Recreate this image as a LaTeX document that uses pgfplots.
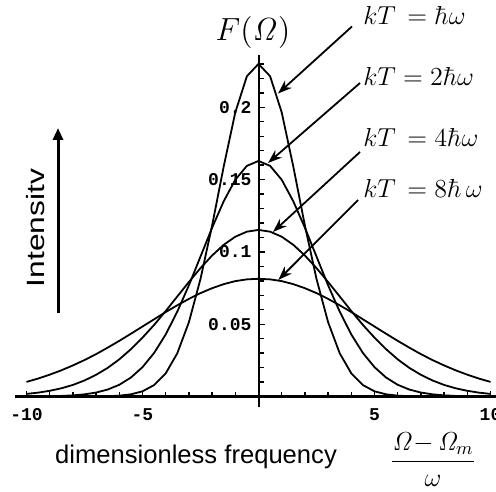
\RequirePackage{fix-cm}
\documentclass[border=0pt]{standalone}
\usepackage[no-math]{fontspec}
\usepackage{graphicx}
\usepackage{pgfplots}
\pgfplotsset{compat=1.18}
\usetikzlibrary{arrows.meta}
\newfontfamily\arial{Liberation Sans}
\newfontfamily\mono{Liberation Mono}

\begin{document}
\begin{tikzpicture}
\begin{axis}[
  x=11.6pt, y=723pt,
  xmin=-10.5, xmax=10.24, ymin=-0.0076, ymax=0.236,
  axis lines=middle,
  axis line style={-},
  x axis line style={line width=1.4pt},
  y axis line style={line width=1pt},
  clip=false,
  xtick={-10,-5,5,10}, xticklabels={-10,-5,5,10},
  ytick={0.05,0.1,0.15,0.2}, yticklabels={0.05,0.1,0.15,0.2},
  minor xtick={-9,-8,-7,-6,-4,-3,-2,-1,1,2,3,4,6,7,8,9},
  minor ytick={0.01,0.02,0.03,0.04,0.06,0.07,0.08,0.09,0.11,0.12,0.13,0.14,0.16,0.17,0.18,0.19,0.21,0.22,0.23},
  tick align=inside,
  major tick length=3pt, minor tick length=2.5pt,
  tick style={black, line width=0.7pt},
  xticklabel style={font=\mono\bfseries\fontsize{9}{10}\selectfont, yshift=-2.5pt},
  yticklabel style={font=\mono\bfseries\fontsize{9}{10}\selectfont},
]
% kT = hbar omega
\addplot[black, line width=0.9pt, no markers] coordinates {(-10,0) (-9,0) (-8,0) (-7.5,0) (-7,0.0001) (-6.5,0.0002) (-6,0.0006) (-5.5,0.0015) (-5,0.0036) (-4.5,0.0079) (-4,0.0160) (-3.5,0.0299) (-3,0.0514) (-2.5,0.0813) (-2,0.1182) (-1.5,0.1590) (-1,0.1965) (-0.5,0.2215) (0,0.2300) (0.5,0.2215) (1,0.1965) (1.5,0.1590) (2,0.1182) (2.5,0.0813) (3,0.0514) (3.5,0.0299) (4,0.0160) (4.5,0.0079) (5,0.0036) (5.5,0.0015) (6,0.0006) (6.5,0.0002) (7,0.0001) (7.5,0) (8,0) (9,0) (10,0)};
% kT = 2 hbar omega
\addplot[black, line width=0.9pt, no markers] coordinates {(-10,0.00004) (-9.5,0.00009) (-9,0.00019) (-8.5,0.0004) (-8,0.00079) (-7.5,0.0015) (-7,0.00274) (-6.5,0.00482) (-6,0.00811) (-5.5,0.0131) (-5,0.0203) (-4.5,0.0301) (-4,0.0429) (-3.5,0.0587) (-3,0.0769) (-2.5,0.0968) (-2,0.1167) (-1.5,0.1350) (-1,0.1499) (-0.5,0.1595) (0,0.1629) (0.5,0.1595) (1,0.1499) (1.5,0.1350) (2,0.1167) (2.5,0.0968) (3,0.0769) (3.5,0.0587) (4,0.0429) (4.5,0.0301) (5,0.0203) (5.5,0.0131) (6,0.00811) (6.5,0.00482) (7,0.00274) (7.5,0.0015) (8,0.00079) (8.5,0.0004) (9,0.00019) (9.5,0.00009) (10,0.00004)};
% kT = 4 hbar omega
\addplot[black, line width=0.9pt, no markers] coordinates {(-10,0.00179) (-9.5,0.00268) (-9,0.00394) (-8.5,0.00568) (-8,0.0080) (-7.5,0.0111) (-7,0.0150) (-6.5,0.0198) (-6,0.0257) (-5.5,0.0327) (-5,0.0407) (-4.5,0.0495) (-4,0.0591) (-3.5,0.0692) (-3,0.0792) (-2.5,0.0888) (-2,0.0975) (-1.5,0.1049) (-1,0.1105) (-0.5,0.1140) (0,0.1152) (0.5,0.1140) (1,0.1105) (1.5,0.1049) (2,0.0975) (2.5,0.0888) (3,0.0792) (3.5,0.0692) (4,0.0591) (4.5,0.0495) (5,0.0407) (5.5,0.0327) (6,0.0257) (6.5,0.0198) (7,0.0150) (7.5,0.0111) (8,0.0080) (8.5,0.00568) (9,0.00394) (9.5,0.00268) (10,0.00179)};
% kT = 8 hbar omega
\addplot[black, line width=0.9pt, no markers] coordinates {(-10,0.0101) (-9.5,0.0124) (-9,0.0151) (-8.5,0.0181) (-8,0.0215) (-7.5,0.0252) (-7,0.0293) (-6.5,0.0338) (-6,0.0385) (-5.5,0.0434) (-5,0.0484) (-4.5,0.0534) (-4,0.0584) (-3.5,0.0631) (-3,0.0675) (-2.5,0.0715) (-2,0.0749) (-1.5,0.0777) (-1,0.0798) (-0.5,0.0810) (0,0.0814) (0.5,0.0810) (1,0.0798) (1.5,0.0777) (2,0.0749) (2.5,0.0715) (3,0.0675) (3.5,0.0631) (4,0.0584) (4.5,0.0534) (5,0.0484) (5.5,0.0434) (6,0.0385) (6.5,0.0338) (7,0.0293) (7.5,0.0252) (8,0.0215) (8.5,0.0181) (9,0.0151) (9.5,0.0124) (10,0.0101)};

\node[font=\fontsize{16}{18}\selectfont] at (axis cs:-0.237,0.2514) {$F(\mathit{\Omega})$};

\node[anchor=west, font=\fontsize{13}{16}\selectfont, inner sep=0pt] at (axis cs:4.5,0.2638) {$kT\,= \hbar\omega$};
\node[anchor=west, font=\fontsize{13}{16}\selectfont, inner sep=0pt] at (axis cs:4.5,0.2210) {$kT = 2\hbar\omega$};
\node[anchor=west, font=\fontsize{13}{16}\selectfont, inner sep=0pt] at (axis cs:4.5,0.1794) {$kT\, = 4\hbar\omega$};
\node[anchor=west, font=\fontsize{13}{16}\selectfont, inner sep=0pt] at (axis cs:4.5,0.1442) {$kT\, = 8\hbar\,\omega$};

\draw[line width=0.9pt, -{Stealth[length=7pt,width=5pt]}] (axis cs:4.03,0.2559) -- (axis cs:0.84,0.2095);
\draw[line width=0.9pt, -{Stealth[length=7pt,width=5pt]}] (axis cs:4.375,0.2168) -- (axis cs:0.41,0.1615);
\draw[line width=0.9pt, -{Stealth[length=7pt,width=5pt]}] (axis cs:4.375,0.1691) -- (axis cs:0.625,0.1138);
\draw[line width=0.9pt, -{Stealth[length=7pt,width=5pt]}] (axis cs:4.29,0.1359) -- (axis cs:0.855,0.0806);

\node[rotate=90, font=\arial\fontsize{12.5}{15}\selectfont] at (axis cs:-9.63,0.1165) {\scalebox{1.27}[1]{Intensitv}};
\draw[line width=1.5pt, -{Triangle[length=6pt,width=5pt]}] (axis cs:-8.642,0.0577) -- (axis cs:-8.642,0.1857);

\node[font=\arial\fontsize{12.8}{15}\selectfont] at (axis cs:-2.694,-0.0418) {dimensionless frequency};
\node[font=\fontsize{13}{15}\selectfont] at (axis cs:7.52,-0.0435) {$\displaystyle\frac{\mathit{\Omega}{-}\,\mathit{\Omega}_m}{\omega}$};

\coordinate (BL) at (axis cs:-11.142,-0.066);
\coordinate (TR) at (axis cs:10.237,0.2742);
\end{axis}
\pgfresetboundingbox
\path[use as bounding box] (BL) rectangle (TR);
\end{tikzpicture}
\end{document}
